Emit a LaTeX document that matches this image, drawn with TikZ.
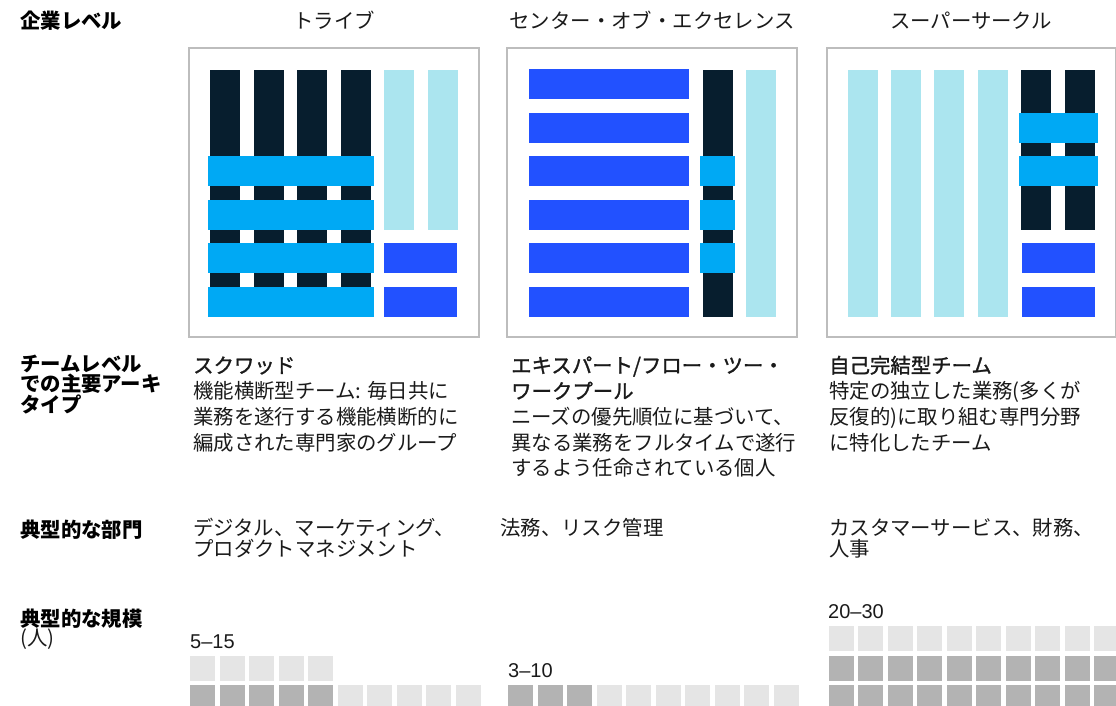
\documentclass[tikz,border=0pt]{standalone}
\usepackage{fontspec}
\setmainfont{Noto Sans CJK JP}
\newfontfamily\numfont{Liberation Sans}
\newfontfamily\medfont[FakeBold=1.3]{Noto Sans CJK JP}
\definecolor{dk}{HTML}{071E2E}
\definecolor{mb}{HTML}{00A9F4}
\definecolor{rb}{HTML}{2251FF}
\definecolor{lc}{HTML}{ABE5EF}
\definecolor{framec}{HTML}{BDBDBD}
\definecolor{sqL}{HTML}{E5E5E5}
\definecolor{sqD}{HTML}{B3B3B3}
\definecolor{txt}{HTML}{1A1A1A}
\tikzset{
  hdr/.style={anchor=base, inner sep=0pt, text=txt, font=\fontsize{20.4}{20.4}\selectfont},
  lbl/.style={anchor=base west, inner sep=0pt, align=left, text=black, font=\fontsize{20.4}{19.5}\selectfont\bfseries},
  body/.style={anchor=base west, inner sep=0pt, align=left, text=txt, font=\fontsize{20.4}{25.7}\selectfont},
  dept/.style={anchor=base west, inner sep=0pt, align=left, text=txt, font=\fontsize{20.4}{21}\selectfont},
  num/.style={anchor=base west, inner sep=0pt, text=txt, font=\numfont\fontsize{20}{20}\selectfont},
  panel/.style={draw=framec, line width=1.3pt, fill=white}
}
\begin{document}
\begin{tikzpicture}[x=1pt, y=-1pt]
\useasboundingbox (0,0) rectangle (1116,706);
% ---------- headers
\node[lbl] (hlevel) at (20,29) {企業レベル};
\node[hdr] (htribe) at (334,29) {トライブ};
\node[hdr] (hcoe) at (652,29) {センター・オブ・エクセレンス};
\node[hdr] (hsc) at (971,29) {スーパーサークル};
% ---------- panel 1: tribe
\draw[panel] (189,48) rectangle (479,337);
\foreach \x in {210,254,297,341} \fill[dk] (\x,70) rectangle ++(30,235);
\foreach \x in {384,428} \fill[lc] (\x,70) rectangle ++(30,160);
\foreach \y in {156,200,243,287} \fill[mb] (208,\y) rectangle ++(166,30);
\foreach \y in {243,287} \fill[rb] (384,\y) rectangle ++(73,30);
% ---------- panel 2: center of excellence
\draw[panel] (507,48) rectangle (797,337);
\foreach \y in {69,113,156,200,243,287} \fill[rb] (529,\y) rectangle ++(160,30);
\fill[dk] (703,70) rectangle (733,317);
\foreach \y in {156,200,243} \fill[mb] (700,\y) rectangle ++(35,30);
\fill[lc] (746,70) rectangle (776,317);
% ---------- panel 3: super circle
\draw[panel] (827,48) rectangle (1115.3,337);
\foreach \x in {848,891,934,978} \fill[lc] (\x,70) rectangle ++(30,247);
\foreach \x in {1021,1065} \fill[dk] (\x,70) rectangle ++(30,160);
\foreach \y in {113,156} \fill[mb] (1019,\y) rectangle ++(79,30);
\foreach \y in {243,287} \fill[rb] (1022,\y) rectangle ++(73,30);
% ---------- row 2: archetypes (anchor = baseline of last line)
\node[lbl] (larch) at (20,412) {チームレベル\\での主要アーキ\\タイプ};
\node[body] (squad) at (193,450.1) {{\medfont スクワッド}\\機能横断型チーム: 毎日共に\\業務を遂行する機能横断的に\\編成された専門家のグループ};
\node[body] (expert) at (511,475.8) {{\medfont エキスパート/フロー・ツー・}\\{\medfont ワークプール}\\ニーズの優先順位に基づいて、\\異なる業務をフルタイムで遂行\\するよう任命されている個人};
\node[body] (self) at (829,450.1) {{\medfont 自己完結型チーム}\\特定の独立した業務(多くが\\反復的)に取り組む専門分野\\に特化したチーム};
% ---------- row 3: departments
\node[lbl] (ldept) at (20,537) {典型的な部門};
\node[dept] (d1) at (193,556) {デジタル、マーケティング、\\プロダクトマネジメント};
\node[dept] (d2) at (500,535) {法務、リスク管理};
\node[dept] (d3) at (829,556) {カスタマーサービス、財務、\\人事};
% ---------- row 4: size
\node[lbl] (lsize) at (20,626) {典型的な規模};
\node[dept] (lunit) at (20,645) {(人)};
\node[num] (n1) at (190,648) {5–15};
\node[num] (n2) at (508,677) {3–10};
\node[num] (n3) at (828,618) {20–30};
% squares column 1
\foreach \i in {0,...,4} \fill[sqL] (190+29.5*\i,655.5) rectangle ++(25,25);
\foreach \i in {0,...,4} \fill[sqD] (190+29.5*\i,685) rectangle ++(25,25);
\foreach \i in {5,...,9} \fill[sqL] (190+29.5*\i,685) rectangle ++(25,25);
% squares column 2
\foreach \i in {0,...,2} \fill[sqD] (508+29.5*\i,685) rectangle ++(25,25);
\foreach \i in {3,...,9} \fill[sqL] (508+29.5*\i,685) rectangle ++(25,25);
% squares column 3
\foreach \i in {0,...,9} {
  \fill[sqL] (828.5+29.5*\i,626) rectangle ++(25,25);
  \fill[sqD] (828.5+29.5*\i,655.5) rectangle ++(25,25);
  \fill[sqD] (828.5+29.5*\i,685) rectangle ++(25,25);
}
\end{tikzpicture}
\end{document}
